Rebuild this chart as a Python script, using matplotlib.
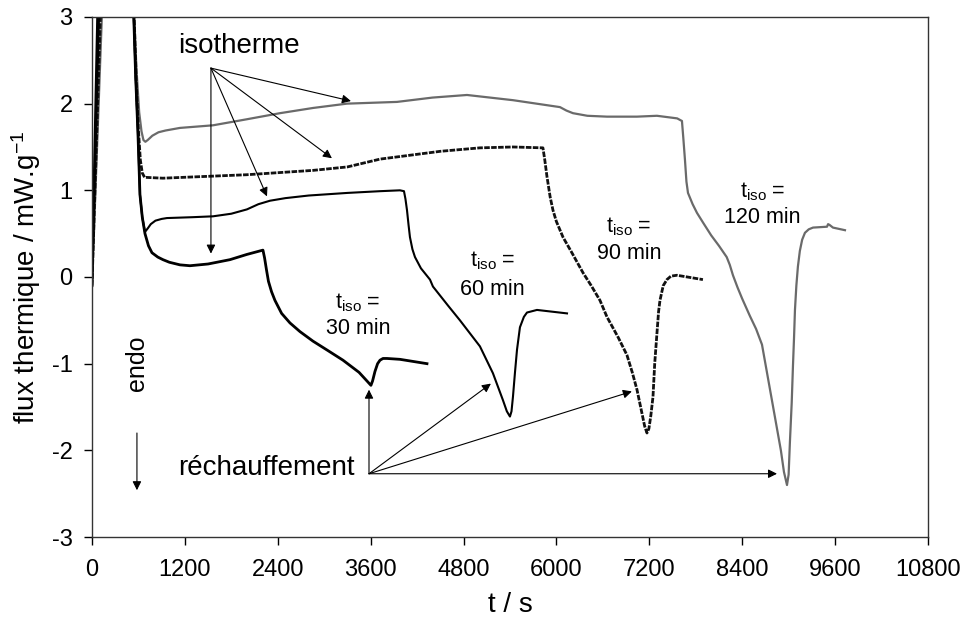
"""
DSC curves - isotherm then reheating, 4 isotherm durations
"""

import numpy as np
import matplotlib
matplotlib.use('Agg')
import matplotlib.pyplot as plt

plt.rcParams['font.family'] = ['Liberation Sans', 'DejaVu Sans']
plt.rcParams['mathtext.fontset'] = 'custom'
plt.rcParams['mathtext.rm'] = 'Liberation Sans'
plt.rcParams['mathtext.it'] = 'Liberation Sans'
plt.rcParams['axes.unicode_minus'] = False

# DATA (t in s, flux in mW/g)
t_30 = [0, 80, 520, 540, 565, 594, 620, 650, 685, 730, 775, 850, 917, 1000, 1137, 1266, 1500,
        1783, 2000, 2209, 2230, 2255, 2280, 2320, 2364, 2450, 2558, 2687, 2855, 3050, 3243,
        3450, 3553, 3604, 3625, 3656, 3690, 3721, 3760, 3811, 3979, 4328]
y_30 = [-0.1, 3.3, 3.3, 3.0, 2.3, 1.66, 0.95, 0.69, 0.50, 0.36, 0.28, 0.23, 0.20, 0.17, 0.14, 0.13, 0.15,
        0.20, 0.26, 0.31, 0.22, 0.08, -0.05, -0.17, -0.27, -0.42, -0.53, -0.63, -0.74, -0.85, -0.96,
        -1.10, -1.20, -1.25, -1.20, -1.09, -1.0, -0.96, -0.94, -0.94, -0.95, -1.0]

t_60 = [0, 100, 520, 540, 565, 594, 620, 650, 685, 720, 760, 820, 900, 969, 1300, 1563, 1800,
        2002, 2150, 2300, 2500, 2800, 3300, 3721, 3979, 4031, 4050, 4070, 4090, 4108, 4140,
        4173, 4250, 4367, 4405, 4600, 4754, 5012, 5180, 5309, 5360, 5400, 5420, 5439, 5465,
        5491, 5529, 5580, 5620, 5749, 6137]
y_60 = [-0.1, 3.3, 3.3, 3.0, 2.3, 1.66, 0.95, 0.69, 0.52, 0.56, 0.61, 0.65, 0.67, 0.68, 0.69, 0.70, 0.73,
        0.78, 0.84, 0.88, 0.91, 0.94, 0.97, 0.99, 1.0, 0.99, 0.90, 0.77, 0.60, 0.46, 0.32,
        0.23, 0.10, -0.03, -0.11, -0.33, -0.50, -0.80, -1.11, -1.42, -1.55, -1.61, -1.55, -1.38, -1.10,
        -0.84, -0.58, -0.46, -0.41, -0.38, -0.42]

t_90 = [0, 120, 520, 545, 575, 600, 625, 650, 680, 917, 2002, 2855, 3300, 3721, 4500, 5012,
        5439, 5826, 5850, 5878, 5920, 5956, 6000, 6085, 6200, 6343, 6450, 6563, 6653, 6800,
        6911, 6980, 7041, 7100, 7140, 7170, 7195, 7220, 7248, 7270, 7299, 7320, 7338, 7380,
        7428, 7480, 7557, 7893]
y_90 = [-0.1, 3.3, 3.3, 3.0, 2.2, 1.7, 1.35, 1.2, 1.15, 1.14, 1.18, 1.23, 1.27, 1.36, 1.45, 1.49,
        1.50, 1.49, 1.35, 1.16, 0.92, 0.77, 0.64, 0.46, 0.28, 0.05, -0.10, -0.27, -0.46, -0.70,
        -0.90, -1.10, -1.30, -1.55, -1.72, -1.80, -1.75, -1.60, -1.38, -1.0, -0.65, -0.40, -0.27, -0.10,
        -0.03, 0.01, 0.02, -0.03]

t_120 = [0, 140, 520, 545, 575, 610, 640, 665, 690, 720, 780, 860, 950, 1137, 1563, 2002, 2429,
         2855, 3294, 3940, 4400, 4845, 5439, 6046, 6130, 6214, 6400, 6653, 7041, 7299, 7560,
         7622, 7640, 7661, 7680, 7700, 7760, 7816, 7900, 8000, 8100, 8200, 8240, 8281, 8340,
         8400, 8500, 8580, 8656, 8700, 8750, 8800, 8850, 8900, 8940, 8979, 9000, 9017, 9040,
         9056, 9070, 9082, 9100, 9120, 9145, 9175, 9211, 9260, 9315, 9496, 9510, 9530, 9573,
         9728]
y_120 = [-0.1, 3.3, 3.3, 3.0, 2.4, 1.9, 1.68, 1.58, 1.56, 1.58, 1.63, 1.67, 1.69, 1.72, 1.75, 1.82, 1.89,
         1.95, 2.0, 2.02, 2.07, 2.10, 2.04, 1.96, 1.92, 1.89, 1.86, 1.85, 1.85, 1.86, 1.83,
         1.80, 1.60, 1.35, 1.10, 0.97, 0.84, 0.74, 0.62, 0.48, 0.36, 0.23, 0.14, 0.02, -0.12,
         -0.25, -0.45, -0.60, -0.78, -1.0, -1.25, -1.50, -1.75, -2.0, -2.25, -2.40, -2.28, -1.90, -1.45,
         -1.03, -0.70, -0.38, -0.10, 0.12, 0.30, 0.43, 0.51, 0.55, 0.57, 0.58, 0.61, 0.60, 0.57,
         0.54]

xticks = [0, 1200, 2400, 3600, 4800, 6000, 7200, 8400, 9600, 10800]
yticks = [-3, -2, -1, 0, 1, 2, 3]

# annotation arrows (start, end)
iso_start = (1537, 2.41)
iso_ends = [(3346, 2.03), (3100, 1.37), (2261, 0.93), (1537, 0.27)]
rech_start = (3579, -2.27)
rech_ends = [(3579, -1.30), (5154, -1.23), (6975, -1.32), (8850, -2.27)]
endo_arrow = [(581, -1.80), (581, -2.46)]

tiso_labels = ['30 min', '60 min', '90 min', '120 min']
tiso_x = [3438, 5175, 6936, 8662]
tiso_y1 = [-0.36, 0.12, 0.51, 0.92]
tiso_y2 = [-0.66, -0.21, 0.21, 0.62]

# PLOT
fig = plt.figure(figsize=(9.65, 6.24), dpi=100)
ax = fig.add_axes([0.0953, 0.1394, 0.8663, 0.8334])

ax.plot(t_120, y_120, color='#6a6a6a', lw=1.6)
ax.plot(t_90, y_90, color='#111111', lw=2.0, ls=(0, (2, 0.5)))
ax.plot(t_60, y_60, color='black', lw=1.5)
ax.plot(t_30, y_30, color='black', lw=2.0)

ax.set_xlim(0, 10800)
ax.set_ylim(-3, 3)
ax.set_xticks(xticks)
ax.set_yticks(yticks)
ax.tick_params(axis='both', direction='out', length=6, width=1, labelsize=17)
ax.tick_params(axis='x', pad=10)
ax.tick_params(axis='y', pad=8)
for s in ax.spines.values():
    s.set_linewidth(1.0)
    s.set_color('#333333')

ax.set_xlabel('t / s', fontsize=20, labelpad=8)
ax.set_ylabel('flux thermique / mW.g$^{-1}$', fontsize=20, labelpad=6)

arrow_kw = dict(arrowstyle='-|>', mutation_scale=13, lw=0.8, color='black',
                shrinkA=0, shrinkB=0)
for e in iso_ends:
    ax.annotate('', xy=e, xytext=iso_start, arrowprops=arrow_kw)
for e in rech_ends:
    ax.annotate('', xy=e, xytext=rech_start, arrowprops=arrow_kw)
ax.annotate('', xy=endo_arrow[1], xytext=endo_arrow[0], arrowprops=arrow_kw)

ax.text(1111, 2.58, 'isotherme', fontsize=20, ha='left', va='baseline')
ax.text(1111, -2.28, 'réchauffement', fontsize=20, ha='left', va='baseline')
ax.text(581, -1.0, 'endo', fontsize=18, rotation=90, ha='center', va='center')

for lab, x, y1, y2 in zip(tiso_labels, tiso_x, tiso_y1, tiso_y2):
    ax.text(x, y1, r't$_{\mathregular{iso}}$ =', fontsize=15.5, ha='center', va='baseline')
    ax.text(x, y2, lab, fontsize=15.5, ha='center', va='baseline')

fig.savefig('out.png', dpi=100)
